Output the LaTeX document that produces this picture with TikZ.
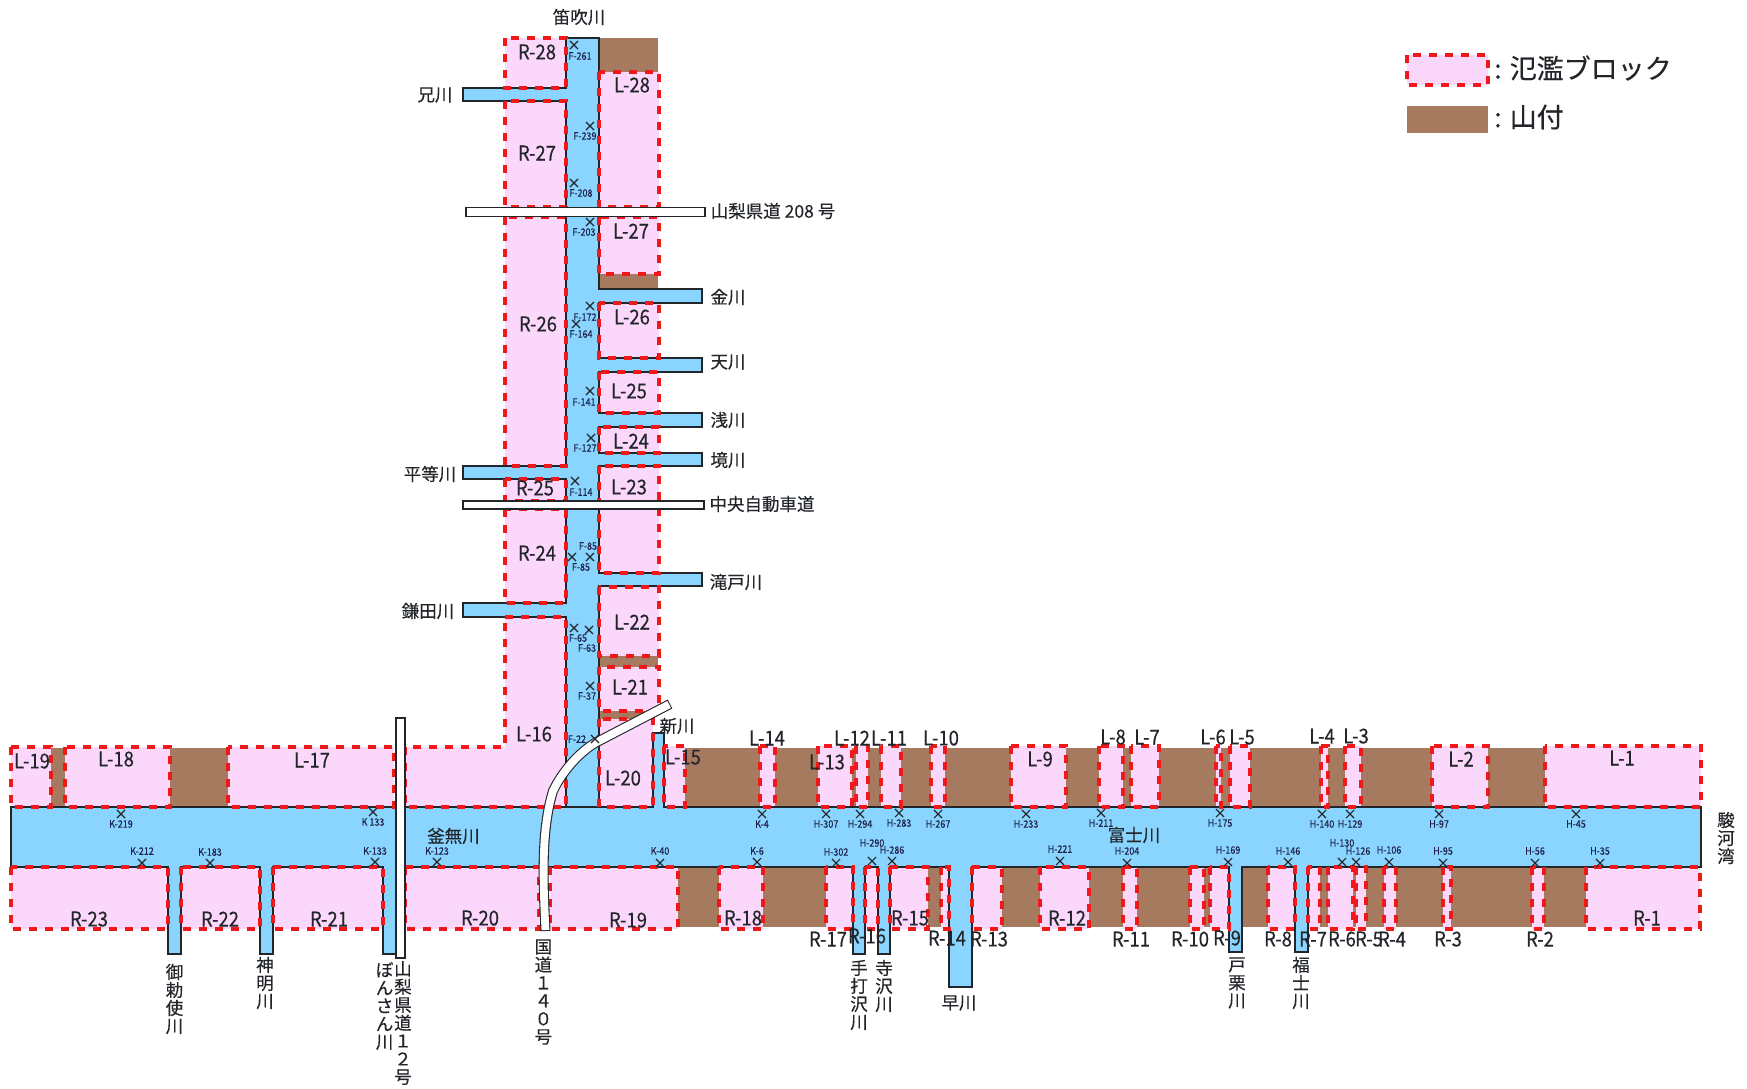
\documentclass[tikz,border=0pt]{standalone}
\usepackage{fontspec}
\newfontfamily\jp[FakeBold=0.3]{Noto Sans CJK JP}
\newfontfamily\narrowjp[FakeStretch=0.9,FakeBold=0.3]{Noto Sans CJK JP}
\newfontfamily\smallnarrowjp[FakeStretch=0.88,FakeBold=0.2]{Noto Sans CJK JP}
\usetikzlibrary{shapes.misc}
\definecolor{riverblue}{HTML}{89D5FF}
\definecolor{blockpink}{HTML}{FBD8FB}
\definecolor{mtnbrown}{HTML}{A67A5E}
\definecolor{inkdark}{HTML}{22262A}
\definecolor{dashred}{HTML}{F01818}
\tikzset{
  pinkfill/.style={fill=blockpink},
  brownfill/.style={fill=mtnbrown},
  reddash/.style={draw=dashred,line width=3.2pt,dash pattern=on 8pt off 8pt},
  riverline/.style={draw=inkdark,line width=1.3pt,fill=riverblue,line join=miter},
  roadbox/.style={draw=inkdark,line width=1.2pt,fill=white},
  blocklabel/.style={font=\narrowjp\fontsize{20.5}{20.5}\selectfont,text=inkdark,inner sep=0pt},
  ptlabel/.style={font=\smallnarrowjp\fontsize{10.2}{10.2}\selectfont,text=inkdark!85!blue,inner sep=0pt},
  xmark/.style={cross out,draw=inkdark,line width=1.1pt,minimum size=7pt,inner sep=0pt},
  htext/.style={font=\jp\fontsize{17.5}{18}\selectfont,text=inkdark,inner sep=0pt},
  vtext/.style={font=\jp\fontsize{17.5}{18}\selectfont,text=inkdark,inner sep=0pt,align=center},
  legendtext/.style={font=\jp\fontsize{27}{27}\selectfont,text=inkdark,inner sep=0pt,anchor=west},
}
\def\mtnlist{599/38/658/72,599/274/658/289,599/656/658/667,599/711/652/719,51/748/65/807,170/748/228/807,685/748/1545/807,678/867/1586/927}
\def\blocklist{505/38/566/88,599/72/659/207,505/101/566/207,505/217/566/466,599/217/659/274,599/303/659/358,599/372/659/413,599/427/659/453,599/466/659/573,505/479/566/501,505/509/566/603,599/587/659/656,599/667/659/711,599/719/653/807,11/747/51/807,65/747/170/807,228/747/394/807,664/746/685/807,760/746/775/807,818/746/852/807,856/746/868/807,881/746/901/807,931/746/945/807,1011/746/1066/807,1099/746/1123/807,1131/746/1159/807,1216/746/1221/807,1230/746/1250/807,1321/746/1328/807,1345/746/1361/807,1432/746/1488/807,1545/746/1701/807,11/867/168/929,181/867/260/929,273/867/383/929,405/867/539/929,550/867/678/929,719/867/763/929,826/867/853/929,865/867/878/929,890/867/928/929,941/867/949/929,972/867/1002/929,1040/867/1089/929,1123/867/1137/929,1190/867/1204/929,1210/867/1229/929,1268/867/1295/929,1308/867/1320/929,1328/867/1353/929,1356/867/1366/929,1384/867/1396/929,1443/867/1451/929,1532/867/1544/929,1586/867/1700/929}
\def\riverpath{(566,38)--(599,38)--(599,289)--(702,289)--(702,303)--(599,303)--(599,358)--(702,358)--(702,372)--(599,372)--(599,413)--(702,413)--(702,427)--(599,427)--(599,453)--(702,453)--(702,466)--(599,466)--(599,573)--(702,573)--(702,586)--(599,586)--(599,807)--(653,807)--(653,733)--(664,733)--(664,807)--(1701,807)--(1701,867)--(1308,867)--(1308,952)--(1295,952)--(1295,867)--(1242,867)--(1242,952)--(1229,952)--(1229,867)--(972,867)--(972,987)--(949,987)--(949,867)--(890,867)--(890,954)--(878,954)--(878,867)--(865,867)--(865,954)--(853,954)--(853,867)--(396,867)--(396,954)--(383,954)--(383,867)--(273,867)--(273,954)--(260,954)--(260,867)--(181,867)--(181,954)--(168,954)--(168,867)--(11,867)--(11,807)--(566,807)--(566,617)--(463,617)--(463,603)--(566,603)--(566,479)--(463,479)--(463,466)--(566,466)--(566,101)--(463,101)--(463,88)--(566,88)--cycle}
\def\highwaycurve{(545.5,931) .. controls (543,880) and (541,830) .. (553,791) .. controls (563,770) and (580,752) .. (595,743) -- (670,704)}
\begin{document}
\begin{tikzpicture}[x=1pt,y=-1pt]
\useasboundingbox (0,0) rectangle (1747,1088);
\fill[white] (0,0) rectangle (1747,1088);
% mountain foothill areas and flood blocks (fill)
\foreach \xa/\ya/\xb/\yb in \mtnlist {\fill[brownfill] (\xa,\ya) rectangle (\xb,\yb);}
\foreach \xa/\ya/\xb/\yb in \blocklist {\fill[pinkfill] (\xa,\ya) rectangle (\xb,\yb);}
\fill[pinkfill] (505,617)--(566,617)--(566,807)--(405,807)--(405,747)--(505,747)--cycle;
% rivers
\path[riverline] \riverpath;
\draw[draw=inkdark,line width=1.3pt] (566,807) -- (599,807);
% flood block outlines
\foreach \xa/\ya/\xb/\yb in \blocklist {\draw[reddash] (\xa,\ya) rectangle (\xb,\yb);}
\draw[reddash] (505,617)--(566,617)--(566,807)--(405,807)--(405,747)--(505,747)--cycle;
% roads
\node[roadbox,minimum width=239pt,minimum height=9pt,inner sep=0pt] (road208) at (585.5,212) {};
\node[roadbox,minimum width=241pt,minimum height=8pt,inner sep=0pt] (roadchuo) at (583.5,505) {};
\node[roadbox,minimum width=9pt,minimum height=240pt,inner sep=0pt] (road12) at (400.5,838) {};
\draw[draw=inkdark,line width=10pt] \highwaycurve;
\draw[draw=white,line width=7.8pt,shorten <=1pt,shorten >=1pt] \highwaycurve;
% point marks
\foreach \t/\cx/\cy/\lx/\ly [count=\i] in {
F-261/574/45/580/56,F-239/590/126/585/136,F-208/574/183/581/193,F-203/590/222/584/232,F-172/590/306/585/317,F-164/576/324/581/334,F-141/590/391/584/402,F-127/591/438/585/448,F-114/575/481/581/492,F-85/590/557/588/546,F-85/572/557/581/567,F-65/574/628/578/638,F-63/589/630/587/648,F-37/590/686/587/696,F-22/595/739/577/739,
K-219/121/814/121/824,K 133/373/812/373/822,K-212/142/863/142/851,K-183/210/863/210/852,K-133/375/862/375/851,K-123/437/862/437/851,K-40/660/863/660/851,K-4/762/814/762/824,K-6/757/862/757/851,
H-307/826/814/826/824,H-294/860/814/860/824,H-283/899/813/899/823,H-267/938/814/938/824,H-302/836/863/836/852,H-290/872/861/872/843,H-286/892/861/892/850,H-233/1026/814/1026/824,H-211/1101/813/1101/823,H-175/1220/813/1220/823,H-140/1322/814/1322/824,H-129/1350/814/1350/824,H-221/1060/861/1060/849,H-204/1127/863/1127/851,H-169/1228/862/1228/850,H-146/1288/862/1288/851,H-130/1342/862/1342/843,H-126/1356/862/1358/851,H-106/1389/862/1389/850,H-97/1439/814/1439/824,H-95/1443/863/1443/851,H-56/1535/863/1535/851,H-45/1576/814/1576/824,H-35/1600/863/1600/851}
{\node[xmark] (mark\i) at (\cx,\cy) {}; \node[ptlabel] (pt\i) at (\lx,\ly) {\t};}
% block labels
\foreach \t/\x/\y [count=\i] in {
R-28/537/52,L-28/632/85,R-27/537/153,L-27/631/231,R-26/538/324,L-26/632/317,L-25/629/391,L-24/631/441,R-25/535/488,L-23/629/487,R-24/537/553,L-22/632/622,L-21/630/687,L-16/534/734,L-20/623/778,L-19/32/761,L-18/116/759,L-17/312/760,L-15/683/757,L-14/767/738,L-13/827/762,L-12/852/738,L-11/889/738,L-10/941/738,L-9/1040/759,L-8/1113/737,L-7/1147/737,L-6/1213/737,L-5/1242/737,L-4/1322/736,L-3/1356/736,L-2/1461/759,L-1/1622/758,
R-23/89/919,R-22/220/919,R-21/329/919,R-20/480/918,R-19/628/920,R-18/743/918,R-17/828/939,R-16/867/936,R-15/910/918,R-14/947/938,R-13/989/939,R-12/1067/918,R-11/1131/939,R-10/1190/939,R-9/1227/938,R-8/1278/939,R-7/1313/939,R-6/1342/939,R-5/1369/939,R-4/1392/939,R-3/1448/939,R-2/1540/939,R-1/1647/918}
{\node[blocklabel] (blk\i) at (\x,\y) {\t};}
% horizontal names
\node[htext] (fuefuki) at (579,17) {笛吹川};
\node[htext] (ani) at (435,95) {兄川};
\node[htext] (pref208) at (773,211) {山梨県道 208 号};
\node[htext] (kane) at (728,297) {金川};
\node[htext] (ten) at (728,362) {天川};
\node[htext] (asa) at (728,420) {浅川};
\node[htext] (sakai) at (728,460) {境川};
\node[htext] (hira) at (430,474) {平等川};
\node[htext] (chuo) at (762,504) {中央自動車道};
\node[htext] (taki) at (736,582) {滝戸川};
\node[htext] (kama) at (428,611) {鎌田川};
\node[htext] (shin) at (677,726) {新川};
\node[htext] (kamanashi) at (453.5,836) {釜無川};
\node[htext] (fuji) at (1134,835) {富士川};
\node[htext] (haya) at (959,1003) {早川};
% vertical names
\node[vtext] (midai) at (174.5,999) {御\\勅\\使\\川};
\node[vtext] (shinmei) at (265,983) {神\\明\\川};
\node[vtext] (bonsan) at (384.6,1006) {ぼ\\ん\\さ\\ん\\川};
\node[vtext] (pref12) at (403,1023) {山\\梨\\県\\道\\１\\２\\号};
\node[vtext] (nat140) at (543.4,992) {国\\道\\１\\４\\０\\号};
\node[vtext] (teuchi) at (859,995) {手\\打\\沢\\川};
\node[vtext] (tera) at (884,986) {寺\\沢\\川};
\node[vtext] (toguri) at (1237,983) {戸\\栗\\川};
\node[vtext] (fukushi) at (1301,983) {福\\士\\川};
\node[vtext] (suruga) at (1726,838) {駿\\河\\湾};
% legend
\fill[pinkfill] (1407,55) rectangle (1488,85);
\draw[reddash] (1407,55) rectangle (1488,85);
\node[legendtext] (leg1) at (1494,68) {:\hspace{8pt}氾濫ブロック};
\fill[brownfill] (1407,106) rectangle (1488,133);
\node[legendtext] (leg2) at (1494,117) {:\hspace{8pt}山付};
\end{tikzpicture}
\end{document}
